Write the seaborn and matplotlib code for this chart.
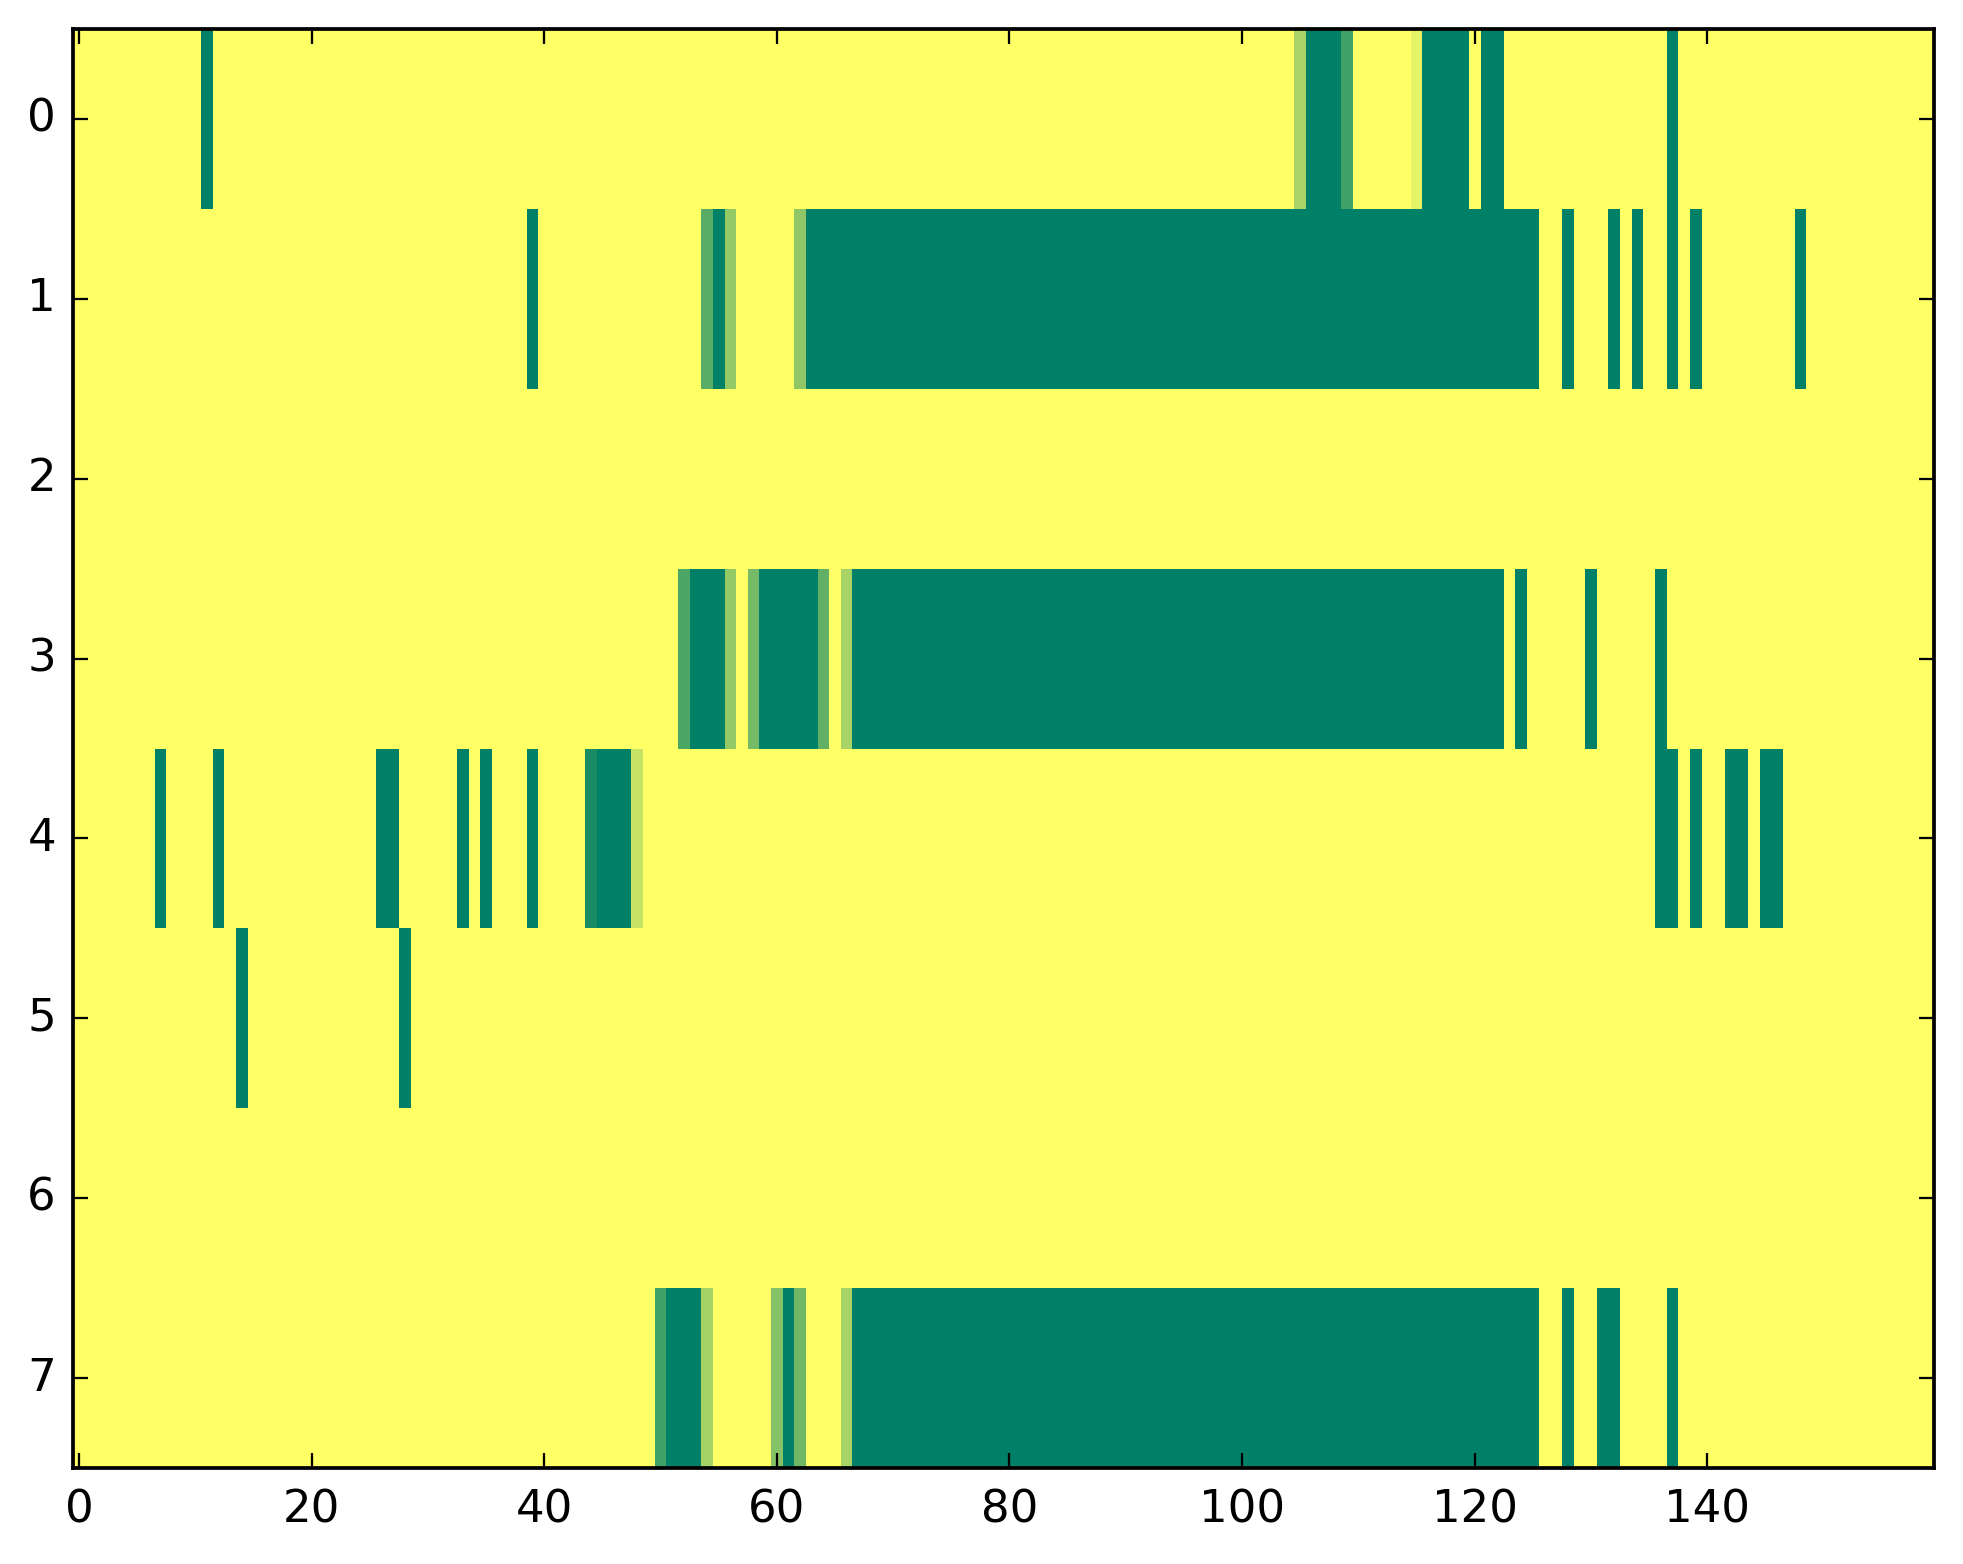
import numpy as np
import matplotlib
matplotlib.use("Agg")
import matplotlib.pyplot as plt
import seaborn as sns

n_cols = 160
row_labels = [0, 1, 2, 3, 4, 5, 6, 7]
x_tick_values = [0, 20, 40, 60, 80, 100, 120, 140]

# runs of (first column, last column, value); every other cell is 1.0
row0 = [(11, 11, 0), (105, 105, 0.66), (106, 108, 0), (109, 109, 0.25),
        (115, 115, 0.9), (116, 119, 0), (121, 122, 0), (137, 137, 0)]
row1 = [(39, 39, 0), (54, 54, 0.35), (55, 55, 0), (56, 56, 0.58),
        (62, 62, 0.56), (63, 125, 0), (128, 128, 0), (132, 132, 0),
        (134, 134, 0), (137, 137, 0), (139, 139, 0), (148, 148, 0)]
row2 = []
row3 = [(52, 52, 0.3), (53, 55, 0), (56, 56, 0.58), (58, 58, 0.46),
        (59, 63, 0), (64, 64, 0.38), (66, 66, 0.66), (67, 122, 0),
        (124, 124, 0), (130, 130, 0), (136, 136, 0)]
row4 = [(7, 7, 0), (12, 12, 0), (26, 27, 0), (33, 33, 0), (35, 35, 0),
        (39, 39, 0), (44, 44, 0.1), (45, 47, 0), (48, 48, 0.78),
        (136, 137, 0), (139, 139, 0), (142, 143, 0), (145, 146, 0)]
row5 = [(14, 14, 0), (28, 28, 0)]
row6 = []
row7 = [(50, 50, 0.25), (51, 53, 0), (54, 54, 0.65), (60, 60, 0.52),
        (61, 61, 0), (62, 62, 0.44), (66, 66, 0.66), (67, 125, 0),
        (128, 128, 0), (131, 132, 0), (137, 137, 0)]

rows = [row0, row1, row2, row3, row4, row5, row6, row7]

grid = np.ones((len(rows), n_cols))
for r, runs in enumerate(rows):
    for start, end, val in runs:
        grid[r, start:end + 1] = val

sns.set_style("white")
plt.rcParams["font.family"] = ["DejaVu Sans"]

dpi = 270
fig = plt.figure(figsize=(1963 / dpi, 1564 / dpi), dpi=dpi)
ax = fig.add_axes([0.0373, 0.0614, 0.948, 0.920])

sns.heatmap(grid, cmap="summer", vmin=0, vmax=1, cbar=False, ax=ax)
ax.set_axisbelow(False)  # seaborn style puts ticks under the mesh otherwise

ax.set_xticks(np.array(x_tick_values) + 0.5, labels=[str(v) for v in x_tick_values], rotation=0)
ax.set_yticks(np.array(row_labels) + 0.5, labels=[str(v) for v in row_labels], rotation=0)
ax.tick_params(direction="in", length=4, width=0.6, colors="black", labelsize=12,
               bottom=True, left=True, top=True, right=True,
               labeltop=False, labelright=False)
ax.tick_params(axis="x", pad=5.4)
ax.tick_params(axis="y", pad=4.6)
for s in ax.spines.values():
    s.set_visible(True)
    s.set_linewidth(1.0)
    s.set_color("black")

fig.savefig("out.png", dpi=dpi, facecolor="white")
